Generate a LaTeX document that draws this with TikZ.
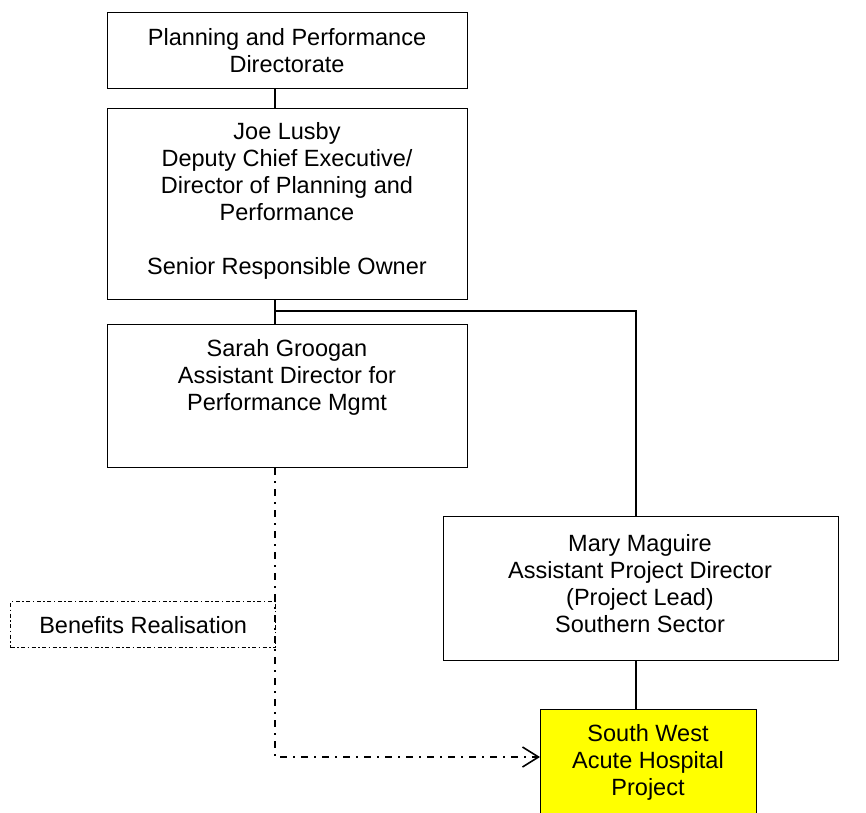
\documentclass[tikz,border=0pt]{standalone}
\usepackage{fontspec}
\setmainfont{Liberation Sans}
\usetikzlibrary{arrows.meta}
\definecolor{projfill}{RGB}{255,255,0}
\begin{document}
\begin{tikzpicture}[x=1pt,y=-1pt,
  box/.style={draw, line width=1.4pt, inner sep=0pt, anchor=north west},
  txt/.style={align=center, inner sep=0pt, anchor=north, font=\fontsize{23.5}{27}\selectfont},
  link/.style={line width=1.4pt},
  dashdot/.style={line width=1.6pt, dash pattern=on 7pt off 6pt on 2pt off 6pt},
]
\path[use as bounding box] (0,0) rectangle (866,812);
\clip (0,0) rectangle (866,812);

% boxes
\node[box, minimum width=360pt, minimum height=76pt]  (plan)   at (107,12)  {};
\node[box, minimum width=360pt, minimum height=191pt] (joe)    at (107,108) {};
\node[box, minimum width=360pt, minimum height=143pt] (sarah)  at (107,324) {};
\node[box, minimum width=395pt, minimum height=144pt] (mary)   at (443,516) {};
\node[box, fill=projfill, minimum width=216pt, minimum height=140pt] (swahp) at (540,709) {};
\node[box, line width=1.3pt, dash pattern=on 4pt off 2.5pt on 1.5pt off 2.5pt,
      minimum width=265pt, minimum height=46pt,
      font=\fontsize{23.5}{27}\selectfont] (benefits) at (10,601) {Benefits Realisation};

% box texts
\node[txt] (tplan)  at (287,28)  {Planning and Performance\\Directorate};
\node[txt] (tjoe)   at (287,122) {Joe Lusby\\Deputy Chief Executive/\\Director of Planning and\\Performance\\[27pt]Senior Responsible Owner};
\node[txt] (tsarah) at (287,339) {Sarah Groogan\\Assistant Director for\\Performance Mgmt};
\node[txt] (tmary)  at (640,534) {Mary Maguire\\Assistant Project Director\\(Project Lead)\\Southern Sector};
\node[txt] (tswahp) at (648,724) {South West\\Acute Hospital\\Project};

% connector guides
\coordinate (spine) at (275,0);
\coordinate (tee)   at (636,311);
\coordinate (elbow) at (275,757);

% solid reporting lines
\draw[link] (plan.south -| spine) -- (joe.north -| spine);
\draw[link] (joe.south -| spine) -- (sarah.north -| spine);
\draw[link] (spine |- tee) -- (tee) -- (tee |- mary.north);
\draw[link] (mary.south -| tee) -- (swahp.north -| tee);

% dotted-line relationship
\draw[dashdot, -{Straight Barb[length=16pt,width=20pt]}]
  (sarah.south -| spine) -- (elbow) -- (elbow -| swahp.west);
\end{tikzpicture}
\end{document}
